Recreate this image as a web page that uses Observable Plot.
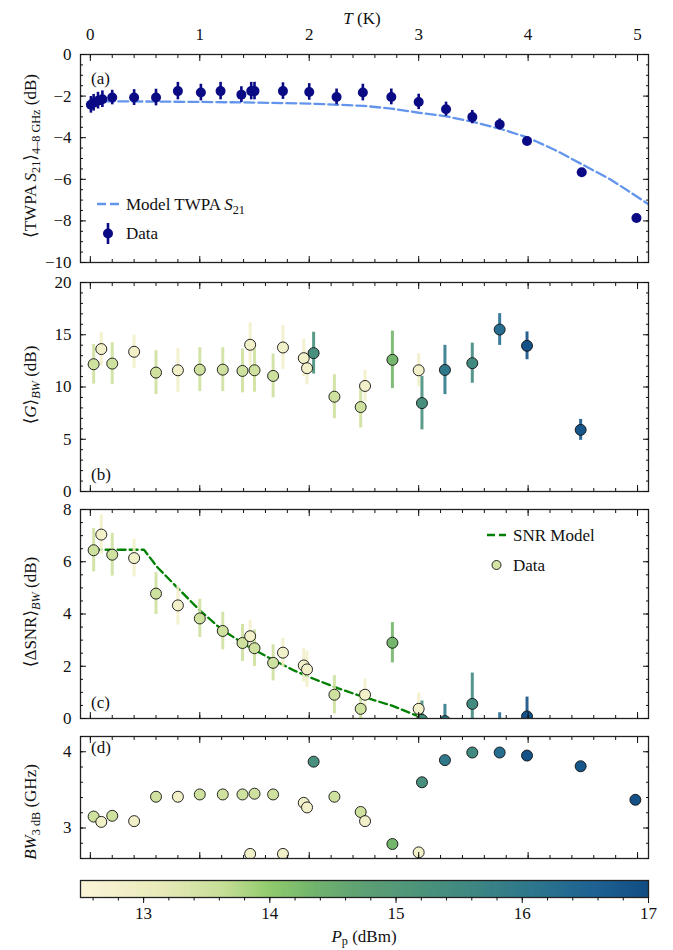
<!DOCTYPE html>
<html><head><meta charset="utf-8">
<script src="https://cdn.jsdelivr.net/npm/d3@7"></script>
<script src="https://cdn.jsdelivr.net/npm/@observablehq/plot@0.6"></script>
<style>
html,body{margin:0;padding:0;background:#fff;}
#root{position:relative;width:673px;height:950px;color:#111;}
#root > div, #root > svg{position:absolute;left:0;}
#root svg{max-width:none;overflow:visible;}
</style></head>
<body><div id="root"></div>
<script>
// ---------- Panel (a): TWPA S21 vs temperature ----------
const s21T   = [0.005, 0.03, 0.07, 0.11, 0.2, 0.4, 0.6, 0.8, 1.01, 1.19, 1.38, 1.47, 1.50, 1.76, 2.0, 2.25, 2.49, 2.75, 3.0, 3.25, 3.49, 3.74, 3.99, 4.49, 4.99];
const s21Val = [-2.42, -2.32, -2.22, -2.15, -2.07, -2.07, -2.07, -1.76, -1.83, -1.76, -1.93, -1.76, -1.76, -1.76, -1.8, -2.04, -1.83, -2.04, -2.28, -2.63, -3.01, -3.36, -4.16, -5.66, -7.86];
const s21Err = [0.4, 0.4, 0.4, 0.4, 0.35, 0.38, 0.4, 0.42, 0.4, 0.42, 0.38, 0.42, 0.42, 0.4, 0.4, 0.38, 0.4, 0.38, 0.37, 0.34, 0.32, 0.26, 0.15, 0.05, 0.05];
const modelT   = [0, 0.5, 1, 1.5, 2, 2.5, 2.75, 3, 3.25, 3.5, 3.75, 4, 4.25, 4.5, 4.75, 5, 5.1];
const modelS21 = [-2.25, -2.26, -2.28, -2.31, -2.36, -2.47, -2.6, -2.8, -2.97, -3.24, -3.58, -4.0, -4.6, -5.3, -6.0, -6.85, -7.2];

// ---------- Panels (b)-(d): shared temperatures ----------
const T    = [0.03, 0.10, 0.20, 0.40, 0.60, 0.80, 1.00, 1.21, 1.39, 1.46, 1.50, 1.67, 1.76, 1.95, 1.98, 2.04, 2.23, 2.47, 2.51, 2.76, 3.00, 3.03, 3.24, 3.49, 3.74, 3.99, 4.48, 4.98];
const gain    = [12.18, 13.63, 12.24, 13.37, 11.38, 11.6, 11.66, 11.66, 11.54, 14.04, 11.6, 11.06, 13.78, 12.76, 11.8, 13.24, 9.07, 8.08, 10.1, 12.6, 11.6, 8.46, 11.63, 12.28, 15.5, 13.94, 5.9, null];
const gainErr = [1.9, 1.6, 2.0, 1.6, 2.1, 2.1, 2.1, 2.1, 2.1, 2.1, 2.1, 2.1, 2.1, 1.8, 1.6, 2.0, 2.1, 2.0, 1.5, 2.75, 1.6, 2.56, 2.36, 1.92, 1.52, 1.33, 1.0, null];
const dSNR    = [6.44, 7.04, 6.27, 6.14, 4.78, 4.33, 3.83, 3.35, 2.89, 3.15, 2.69, 2.13, 2.52, 2.03, 1.88, null, 0.91, 0.37, 0.91, 2.9, 0.37, -0.05, -0.1, 0.56, -0.4, 0.08, null, null];
const dSNRErr = [0.83, 0.75, 0.82, 0.72, 0.8, 0.75, 0.73, 0.72, 0.71, 0.6, 0.7, 0.69, 0.55, 0.64, 0.69, null, 0.73, 0.7, 0.6, 0.77, 0.6, 0.72, 0.64, 1.18, 0.62, 0.74, null, null];
const bw3dB   = [3.15, 3.08, 3.16, 3.09, 3.41, 3.41, 3.44, 3.44, 3.44, 2.66, 3.45, 3.44, 2.66, 3.33, 3.27, 3.87, 3.41, 3.21, 3.09, 2.79, 2.68, 3.6, 3.89, 3.99, 3.99, 3.95, 3.81, 3.37];
const Pp      = [13.5, 12.8, 13.5, 12.8, 13.5, 12.8, 13.5, 13.5, 13.5, 12.8, 13.5, 13.5, 12.8, 12.8, 12.8, 15.3, 13.5, 13.5, 12.8, 14.3, 12.8, 15.3, 16.0, 15.5, 16.3, 16.9, 16.8, 16.9];
const snrModelT = [0.03, 0.49, 0.61, 0.79, 1.0, 1.19, 1.40, 1.62, 1.86, 2.04, 2.26, 2.47, 2.75, 3.02, 3.05];
const snrModel  = [6.46, 6.46, 5.8, 5.03, 4.14, 3.44, 2.86, 2.35, 1.84, 1.52, 1.16, 0.86, 0.5, 0.05, 0];

// ---------- ticks ----------
const xMajor = [0, 1, 2, 3, 4, 5];
const aMajor = [-10, -8, -6, -4, -2, 0];
const bMajor = [0, 5, 10, 15, 20];
const cMajor = [0, 2, 4, 6, 8];
const dMajor = [3, 4];
const cbMajor = [13, 14, 15, 16, 17];

// ---------- style ----------
const FONT = '"Liberation Serif", "DejaVu Serif", serif';
const cStops  = [12.5, 13.175, 13.625, 13.985, 14.3, 14.75, 15.2, 15.65, 16.1, 16.55, 17];
const cColors = ["#fcf5d9", "#e6e9b6", "#c5de96", "#92cb6e", "#74b66c", "#5c9f74", "#4c937b", "#3c8583", "#2c758d", "#1f6293", "#114c82"];
const colorOpts = {type: "linear", domain: cStops, range: cColors, interpolate: "rgb", clamp: true};
const xDomain = [-0.09, 5.10];
const W = 673, ML = 80, MR = 25;
const minor = (a, b, s) => d3.range(Math.round(a / s), Math.round(b / s) + 1).map(i => +(i * s).toFixed(3));
const fmt = d => d < 0 ? "\u2212" + Math.abs(d) : String(d);

const aRows = s21T.map((t, i) => ({T: t, v: s21Val[i], e: s21Err[i]}));
const modelRows = modelT.map((t, i) => ({T: t, v: modelS21[i]}));
const rows = T.map((t, i) => ({T: t, G: gain[i], Ge: gainErr[i], S: dSNR[i], Se: dSNRErr[i], BW: bw3dB[i], Pp: Pp[i]}));
const snrRows = snrModelT.map((t, i) => ({T: t, v: snrModel[i]}));

function panel({mt, fh, mb, yDomain, yMajor, yMinor, marks, topLabels = false}) {
  const ax = [];
  for (const a of ["top", "bottom"]) {
    ax.push(Plot.axisX({anchor: a, ticks: xMajor, tickSize: -6, tickFormat: () => "", label: null}));
    ax.push(Plot.axisX({anchor: a, ticks: minor(0, 5, 0.2), tickSize: -3, tickFormat: () => "", label: null}));
  }
  for (const a of ["left", "right"]) {
    ax.push(Plot.axisY({anchor: a, ticks: yMajor, tickSize: -6, tickFormat: () => "", label: null}));
    ax.push(Plot.axisY({anchor: a, ticks: yMinor, tickSize: -3, tickFormat: () => "", label: null}));
  }
  ax.push(Plot.axisY({anchor: "left", ticks: yMajor, tickSize: 0, tickPadding: 9, tickFormat: fmt, label: null}));
  if (topLabels) ax.push(Plot.axisX({anchor: "top", ticks: xMajor, tickSize: 0, tickPadding: 15, tickFormat: fmt, label: null}));
  return Plot.plot({
    width: W, height: mt + fh + mb, marginLeft: ML, marginRight: MR, marginTop: mt, marginBottom: mb,
    x: {domain: xDomain}, y: {domain: yDomain}, color: colorOpts,
    style: {fontFamily: FONT, fontSize: "17px", color: "#111", background: "transparent"},
    marks: [...marks, Plot.frame({stroke: "#222", strokeWidth: 1.3}), ...ax]
  });
}

const root = document.getElementById("root");
function place(el, top) { const d = document.createElement("div"); d.style.top = top + "px"; d.appendChild(el); root.appendChild(d); return el; }

// (a)
place(panel({mt: 54, fh: 208, mb: 8, yDomain: [-10, 0], yMajor: aMajor, yMinor: minor(-10, 0, 0.5), topLabels: true, marks: [
  Plot.line(modelRows, {x: "T", y: "v", stroke: "#6495ed", strokeWidth: 2.3, strokeDasharray: "10,4", clip: true}),
  Plot.ruleX(aRows, {x: "T", y1: d => d.v - d.e, y2: d => d.v + d.e, stroke: "#0a0a85", strokeWidth: 2.6}),
  Plot.dot(aRows, {x: "T", y: "v", r: 5, fill: "#0a0a85"})
]}), 0);

// (b)
const gRows = rows.filter(d => d.G != null);
place(panel({mt: 10, fh: 209, mb: 8, yDomain: [0, 20], yMajor: bMajor, yMinor: minor(0, 20, 1), marks: [
  Plot.ruleX(gRows, {x: "T", y1: d => d.G - d.Ge, y2: d => d.G + d.Ge, stroke: "Pp", strokeWidth: 3, strokeOpacity: 0.9, clip: true}),
  Plot.dot(gRows, {x: "T", y: "G", r: 5.5, fill: "Pp", stroke: "#111", strokeWidth: 0.9, clip: true})
]}), 272);

// (c)
const sRows = rows.filter(d => d.S != null);
const plotC = place(panel({mt: 10, fh: 209, mb: 8, yDomain: [0, 8], yMajor: cMajor, yMinor: minor(0, 8, 0.5), marks: [
  Plot.line(snrRows, {x: "T", y: "v", stroke: "#008000", strokeWidth: 2.3, strokeDasharray: "8,4", clip: true}),
  Plot.ruleX(sRows, {x: "T", y1: d => d.S - d.Se, y2: d => d.S + d.Se, stroke: "Pp", strokeWidth: 3, strokeOpacity: 0.9, clip: true}),
  Plot.dot(sRows, {x: "T", y: "S", r: 5.5, fill: "Pp", stroke: "#111", strokeWidth: 0.9, clip: true})
]}), 499);

// (d)
place(panel({mt: 10, fh: 122, mb: 6, yDomain: [2.6, 4.2], yMajor: dMajor, yMinor: minor(2.6, 4.2, 0.2), marks: [
  Plot.dot(rows, {x: "T", y: "BW", r: 5.5, fill: "Pp", stroke: "#111", strokeWidth: 0.9, clip: true})
]}), 726);

// colorbar
const cbSteps = d3.range(12.5, 17, 0.025);
place(Plot.plot({
  width: W, height: 52, marginLeft: ML, marginRight: MR, marginTop: 10, marginBottom: 25,
  x: {domain: [12.5, 17]}, y: {domain: [0, 1], axis: null}, color: colorOpts,
  style: {fontFamily: FONT, fontSize: "17px", color: "#111", background: "transparent"},
  marks: [
    Plot.rect(cbSteps, {x1: d => d, x2: d => Math.min(17, d + 0.035), y1: 0, y2: 1, fill: d => d}),
    Plot.frame({stroke: "#222", strokeWidth: 1.3}),
    Plot.axisX({anchor: "bottom", ticks: cbMajor, tickSize: 6, tickPadding: 3, tickFormat: fmt, label: null}),
    Plot.axisX({anchor: "bottom", ticks: minor(12.6, 17, 0.2), tickSize: 3.5, tickFormat: () => "", label: null})
  ]
}), 870);

// ---------- overlay: axis titles, panel tags, legends ----------
const ov = d3.select(root).append("svg").attr("width", W).attr("height", 950)
  .style("top", "0px").style("pointer-events", "none");
function rich(x, y, parts, {rotate = false, anchor = "middle", size = 17, subShift = 4} = {}) {
  const t = ov.append("text").attr("x", x).attr("y", y).attr("text-anchor", anchor)
    .attr("font-family", FONT).attr("font-size", size).attr("fill", "#111");
  if (rotate) t.attr("transform", `rotate(-90 ${x} ${y})`);
  let shift = 0;
  for (const p of parts) {
    const q = typeof p === "string" ? {t: p} : p;
    const s = t.append("tspan").text(q.t);
    if (q.it) s.attr("font-style", "italic");
    const target = q.sub ? subShift : 0;
    if (target !== shift) { s.attr("dy", target - shift); shift = target; }
    if (q.sub) s.attr("font-size", size * 0.72);
  }
}
rich(362, 24, [{t: "T", it: true}, " (K)"]);
rich(36, 156, ["\u27E8TWPA ", {t: "S", it: true}, {t: "21", sub: true}, "\u27E9", {t: "4\u20138 GHz", sub: true}, " (dB)"], {rotate: true});
rich(36, 385, ["\u27E8", {t: "G", it: true}, "\u27E9", {t: "BW", it: true, sub: true}, " (dB)"], {rotate: true});
rich(36, 612, ["\u27E8\u0394SNR\u27E9", {t: "BW", it: true, sub: true}, " (dB)"], {rotate: true});
rich(36, 812, [{t: "BW", it: true}, {t: "3 dB", sub: true}, " (GHz)"], {rotate: true});
rich(364, 942, [{t: "P", it: true}, {t: "p", sub: true}, " (dBm)"], {subShift: 3});
rich(91, 84, ["(a)"], {anchor: "start"});
rich(91, 480, ["(b)"], {anchor: "start"});
rich(91, 708, ["(c)"], {anchor: "start"});
rich(91, 753, ["(d)"], {anchor: "start"});

// legend (a)
ov.append("line").attr("x1", 97).attr("x2", 119).attr("y1", 204).attr("y2", 204)
  .attr("stroke", "#6495ed").attr("stroke-width", 2.3).attr("stroke-dasharray", "9,4");
rich(126, 210, ["Model TWPA ", {t: "S", it: true}, {t: "21", sub: true}], {anchor: "start"});
ov.append("line").attr("x1", 108).attr("x2", 108).attr("y1", 223).attr("y2", 244).attr("stroke", "#0a0a85").attr("stroke-width", 2.6);
ov.append("circle").attr("cx", 108).attr("cy", 233.5).attr("r", 5).attr("fill", "#0a0a85");
rich(126, 239, ["Data"], {anchor: "start"});

// legend (c)
ov.append("line").attr("x1", 487).attr("x2", 506).attr("y1", 535).attr("y2", 535)
  .attr("stroke", "#008000").attr("stroke-width", 2.3).attr("stroke-dasharray", "8,4");
rich(513, 541, ["SNR Model"], {anchor: "start"});
ov.append("circle").attr("cx", 496.5).attr("cy", 565).attr("r", 4.5)
  .attr("fill", plotC.scale("color").apply(13.4)).attr("stroke", "#111").attr("stroke-width", 0.9);
rich(513, 571, ["Data"], {anchor: "start"});
</script>
</body></html>
